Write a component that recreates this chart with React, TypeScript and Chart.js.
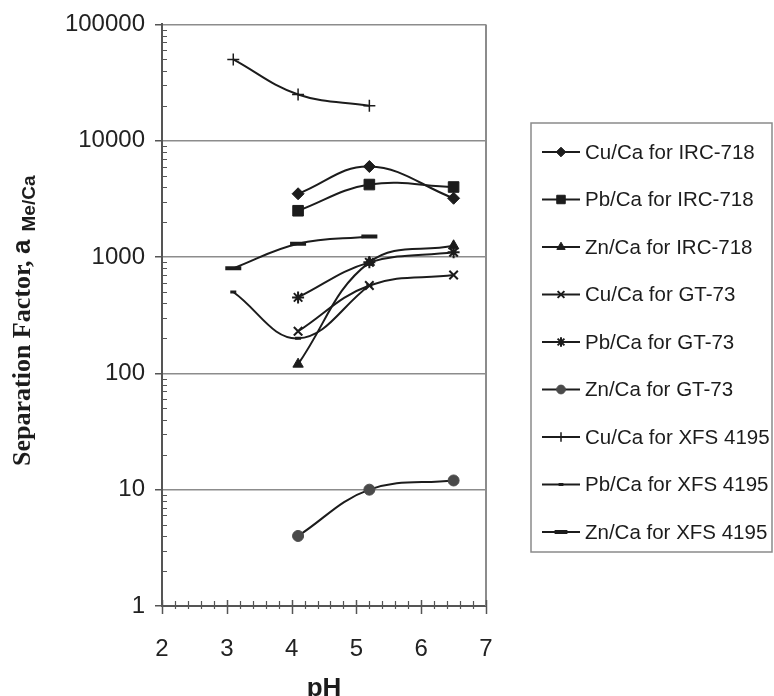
import React, { useEffect, useRef } from "react";
import { Chart, registerables } from "chart.js";
import { drawPoint } from "chart.js/helpers";

Chart.register(...registerables);

// ---- data ----
const pHIRC = [4.1, 5.2, 6.5];
const pHGT = [4.1, 5.2, 6.5];
const pHXFS = [3.1, 4.1, 5.2];

const cuIRC = [3500, 6000, 3200];
const pbIRC = [2500, 4200, 4000];
const znIRC = [120, 900, 1250];
const cuGT = [230, 570, 700];
const pbGT = [450, 900, 1100];
const znGT = [4, 10, 12];
const cuXFS = [50000, 25000, 20000];
const pbXFS = [500, 200, 570];
const znXFS = [800, 1300, 1500];

const seriesLabels = [
  "Cu/Ca for IRC-718",
  "Pb/Ca for IRC-718",
  "Zn/Ca for IRC-718",
  "Cu/Ca for GT-73",
  "Pb/Ca for GT-73",
  "Zn/Ca for GT-73",
  "Cu/Ca for XFS 4195",
  "Pb/Ca for XFS 4195",
  "Zn/Ca for XFS 4195",
];

const xTickValues = [2, 3, 4, 5, 6, 7];
const yTickValues = [1, 10, 100, 1000, 10000, 100000];

const xTitle = "pH";
const yTitleMain = "Separation Factor, ";
const yTitleSymbol = "a";
const yTitleSub = "Me/Ca";

const INK = "#1c1c1c";

type Marker = { style: any; r: number; bw: number; color?: string };
const markers: Marker[] = [
  { style: "rectRot", r: 6, bw: 1 },
  { style: "rect", r: 7.5, bw: 1 },
  { style: "triangle", r: 6, bw: 1 },
  { style: "crossRot", r: 6, bw: 2 },
  { style: "star", r: 6, bw: 2 },
  { style: "circle", r: 5.5, bw: 1, color: "#4a4a4a" },
  { style: "cross", r: 6, bw: 1.5 },
  { style: "line", r: 3, bw: 3 },
  { style: "line", r: 8, bw: 4 },
];

const seriesX = [pHIRC, pHIRC, pHIRC, pHGT, pHGT, pHGT, pHXFS, pHXFS, pHXFS];
const seriesY = [cuIRC, pbIRC, znIRC, cuGT, pbGT, znGT, cuXFS, pbXFS, znXFS];

const extras = {
  id: "extras",
  afterDraw(chart: any) {
    const ctx = chart.ctx as CanvasRenderingContext2D;
    const { left, right, top, bottom } = chart.chartArea;
    const xs = chart.scales.x;
    const ys = chart.scales.y;
    ctx.save();
    // right border
    ctx.strokeStyle = "#8c8c8c";
    ctx.lineWidth = 2;
    ctx.beginPath();
    ctx.moveTo(right, top);
    ctx.lineTo(right, bottom);
    ctx.stroke();

    // y minor ticks
    ctx.strokeStyle = "#555";
    ctx.lineWidth = 1;
    for (let d = 1; d < 100000; d *= 10) {
      for (let m = 2; m <= 9; m++) {
        const py = Math.round(ys.getPixelForValue(d * m)) + 0.5;
        ctx.beginPath();
        ctx.moveTo(left, py);
        ctx.lineTo(left + 5, py);
        ctx.stroke();
      }
    }
    // x ticks
    for (let i = 0; i <= 25; i++) {
      const v = 2 + i * 0.2;
      const px = Math.round(xs.getPixelForValue(v)) + 0.5;
      const major = i % 5 === 0;
      ctx.lineWidth = major ? 1.5 : 1.2;
      ctx.beginPath();
      ctx.moveTo(px, bottom - (major ? 6 : 5));
      ctx.lineTo(px, bottom + (major ? 8 : 3));
      ctx.stroke();
    }

    // x title
    ctx.fillStyle = INK;
    ctx.font = "bold 26px 'Liberation Sans', Arial, sans-serif";
    ctx.textAlign = "center";
    ctx.textBaseline = "alphabetic";
    ctx.fillText(xTitle, (left + right) / 2, 696);

    // y title
    ctx.save();
    ctx.translate(30, 466);
    ctx.rotate(-Math.PI / 2);
    ctx.textAlign = "left";
    ctx.textBaseline = "alphabetic";
    ctx.font = "bold 26px 'Liberation Serif', 'Times New Roman', serif";
    ctx.fillText(yTitleMain, 0, 0);
    let w = ctx.measureText(yTitleMain).width;
    ctx.font = "bold 26px 'Liberation Sans', Arial, sans-serif";
    ctx.fillText(yTitleSymbol, w, 0);
    w += ctx.measureText(yTitleSymbol).width + 8;
    ctx.font = "bold 19px 'Liberation Sans', Arial, sans-serif";
    ctx.fillText(yTitleSub, w, 5);
    ctx.restore();

    // legend
    const bx = 531, by = 123, bw = 241, bh = 429;
    ctx.strokeStyle = "#8a8a8a";
    ctx.lineWidth = 1.5;
    ctx.strokeRect(bx, by, bw, bh);
    ctx.font = "20.5px 'Liberation Sans', Arial, sans-serif";
    ctx.textAlign = "left";
    ctx.textBaseline = "middle";
    chart.data.datasets.forEach((ds: any, i: number) => {
      const cy = 152 + i * 47.5;
      const mk = markers[i];
      const col = mk.color || INK;
      ctx.strokeStyle = INK;
      ctx.lineWidth = 2;
      ctx.beginPath();
      ctx.moveTo(542, cy);
      ctx.lineTo(580, cy);
      ctx.stroke();
      ctx.fillStyle = col;
      ctx.strokeStyle = col;
      ctx.lineWidth = mk.bw;
      drawPoint(ctx, { pointStyle: mk.style, radius: mk.r * 0.8, rotation: 0, borderWidth: mk.bw } as any, 561, cy);
      ctx.fillStyle = INK;
      ctx.fillText(ds.label, 585, cy + 1);
    });
    ctx.restore();
  },
};

export default function App() {
  const ref = useRef<HTMLCanvasElement | null>(null);
  useEffect(() => {
    document.body.style.margin = "0";
    const datasets = seriesLabels.map((label, i) => {
      const mk = markers[i];
      const col = mk.color || INK;
      return {
        label,
        data: seriesX[i].map((x, j) => ({ x, y: seriesY[i][j] })),
        borderColor: INK,
        backgroundColor: col,
        borderWidth: 2,
        tension: 0.4,
        fill: false,
        pointStyle: mk.style,
        pointRadius: mk.r,
        pointBorderWidth: mk.bw,
        pointBackgroundColor: col,
        pointBorderColor: col,
      };
    });
    const chart = new Chart(ref.current as HTMLCanvasElement, {
      type: "line",
      data: { datasets },
      options: {
        animation: false,
        responsive: false,
        devicePixelRatio: 1,
        layout: { padding: { top: 23, right: 288, bottom: 0, left: 0 } },
        plugins: { legend: { display: false }, tooltip: { enabled: false } },
        scales: {
          x: {
            type: "linear",
            min: 2,
            max: 7,
            afterBuildTicks: (s: any) => {
              s.ticks = xTickValues.map((v) => ({ value: v }));
            },
            afterFit: (s: any) => {
              s.height = 90;
            },
            grid: { display: false },
            border: { display: true, color: "#555", width: 2 },
            ticks: {
              padding: 21,
              color: "#222",
              font: { family: "'Liberation Sans', Arial, sans-serif", size: 24 },
            },
          },
          y: {
            type: "logarithmic",
            min: 1,
            max: 100000,
            afterBuildTicks: (s: any) => {
              s.ticks = yTickValues.map((v) => ({ value: v }));
            },
            afterFit: (s: any) => {
              s.width = 162;
            },
            grid: {
              color: "#8c8c8c",
              lineWidth: 1.5,
              tickColor: "#555",
              tickLength: 7,
            },
            border: { display: true, color: "#555", width: 2 },
            ticks: {
              padding: 10,
              color: "#222",
              font: { family: "'Liberation Sans', Arial, sans-serif", size: 24 },
              callback: (v: any) => String(v),
            },
          },
        },
      },
      plugins: [extras],
    });
    return () => chart.destroy();
  }, []);
  return (
    <div style={{ width: 774, height: 696, background: "#fff" }}>
      <canvas ref={ref} width={774} height={696} />
    </div>
  );
}
